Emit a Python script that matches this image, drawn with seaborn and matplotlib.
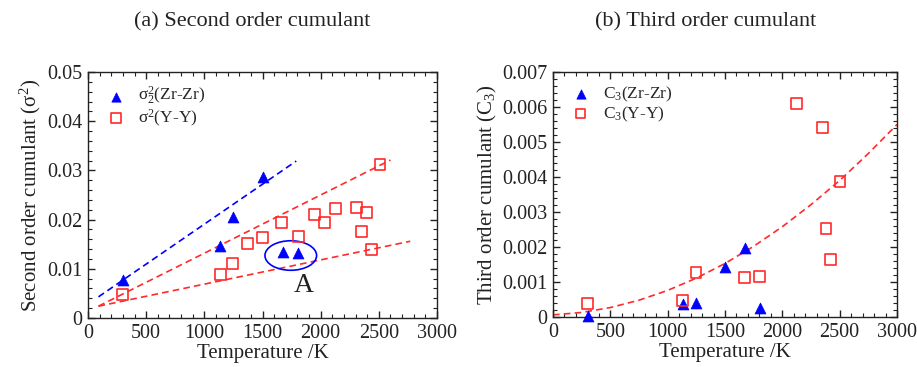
import numpy as np
import pandas as pd
import matplotlib
matplotlib.use("Agg")
import matplotlib.pyplot as plt
from matplotlib.patches import Ellipse
from matplotlib.ticker import MultipleLocator, FixedLocator, FixedFormatter
import seaborn as sns

# ---------------- data: panel (a) second order cumulant ----------------
zr2_T = [303, 1135, 1249, 1501, 1673, 1808]
zr2_val = [0.0077, 0.0146, 0.0206, 0.0287, 0.0135, 0.0133]
y2_T = [298, 1135, 1244, 1373, 1501, 1665, 1808, 1951, 2032, 2129, 2310, 2390, 2353, 2433, 2510]
y2_val = [0.0048, 0.0089, 0.0111, 0.0152, 0.0164, 0.0195, 0.0165, 0.0211, 0.0195, 0.0223,
          0.0224, 0.0214, 0.0176, 0.0140, 0.0312]
fit_zr2_T = [90, 1790]
fit_zr2_val = [0.0043, 0.0319]
fit_y2_hi_T = [90, 2600]
fit_y2_hi_val = [0.0024, 0.0321]
fit_y2_lo_T = [90, 2770]
fit_y2_lo_val = [0.0024, 0.0156]
ellipse_center = (1743, 0.0127)
ellipse_size = (444, 0.0060)
label_A_pos = (1851, 0.0067)

# ---------------- data: panel (b) third order cumulant ----------------
zr3_T = [302, 1131, 1247, 1503, 1672, 1805]
zr3_val = [0.00003, 0.00037, 0.00041, 0.00142, 0.00198, 0.00025]
y3_T = [302, 1131, 1247, 1669, 1799, 2125, 2352, 2503, 2381, 2424]
y3_val = [0.00039, 0.00047, 0.00127, 0.00113, 0.00115, 0.00611, 0.00541, 0.00387, 0.00253, 0.00165]
fit_y3_T = [0, 250, 500, 750, 1000, 1250, 1500, 1750, 2000, 2250, 2500, 2750, 3000]
fit_y3_val = [0.00006, 0.00013, 0.00027, 0.00048, 0.00076, 0.00111, 0.00153, 0.00202,
              0.00258, 0.00321, 0.00390, 0.00467, 0.00550]

# ---------------- ticks / text ----------------
x_ticks = [0, 500, 1000, 1500, 2000, 2500, 3000]
x_tick_labels = ["0", "500", "1000", "1500", "2000", "2500", "3000"]
ya_ticks = [0, 0.01, 0.02, 0.03, 0.04, 0.05]
ya_tick_labels = ["0", "0.01", "0.02", "0.03", "0.04", "0.05"]
yb_ticks = [0, 0.001, 0.002, 0.003, 0.004, 0.005, 0.006, 0.007]
yb_tick_labels = ["0", "0.001", "0.002", "0.003", "0.004", "0.005", "0.006", "0.007"]

BLUE = "#0000ff"
RED = "#ff2a2a"

sns.set_theme(style="ticks")
plt.rcParams["font.family"] = ["Liberation Serif", "DejaVu Serif"]
plt.rcParams["mathtext.fontset"] = "custom"
plt.rcParams["mathtext.rm"] = "Liberation Serif"
plt.rcParams["mathtext.it"] = "Liberation Serif:italic"
plt.rcParams["mathtext.default"] = "regular"

fig = plt.figure(figsize=(9.17, 3.67), dpi=100)
W, H = 917.0, 367.0
axA = fig.add_axes([88 / W, 1 - 318 / H, 349 / W, 246 / H])
axB = fig.add_axes([553 / W, 1 - 317 / H, 344 / W, 245 / H])


def style_axes(ax, yticks, ylabels, yminor):
    ax.set_xlim(0, 3000)
    ax.set_ylim(yticks[0], yticks[-1])
    ax.xaxis.set_major_locator(FixedLocator(x_ticks))
    ax.xaxis.set_major_formatter(FixedFormatter(x_tick_labels))
    ax.yaxis.set_major_locator(FixedLocator(yticks))
    ax.yaxis.set_major_formatter(FixedFormatter(ylabels))
    ax.xaxis.set_minor_locator(MultipleLocator(100))
    ax.yaxis.set_minor_locator(MultipleLocator(yminor))
    ax.tick_params(which="both", direction="in", top=True, right=True,
                   colors="#222222", labelcolor="#222222")
    ax.tick_params(which="major", length=5, width=1.0, labelsize=14.5)
    ax.tick_params(axis="x", which="major", pad=4)
    ax.tick_params(axis="y", which="major", pad=4)
    ax.tick_params(which="minor", length=2.8, width=0.8)
    for s in ax.spines.values():
        s.set_color("#222222")
        s.set_linewidth(1.0)
    ax.set_xlabel("Temperature /K", fontsize=15, color="#222222", labelpad=1)


dash = (4, 2.5)

# ---------------- panel (a) ----------------
sns.lineplot(x=fit_zr2_T, y=fit_zr2_val, ax=axA, color=BLUE, lw=1.2)
sns.lineplot(x=fit_y2_hi_T, y=fit_y2_hi_val, ax=axA, color=RED, lw=1.2)
sns.lineplot(x=fit_y2_lo_T, y=fit_y2_lo_val, ax=axA, color=RED, lw=1.2)
for ln in axA.get_lines():
    ln.set_dashes(dash)

sns.scatterplot(x=zr2_T, y=zr2_val, ax=axA, marker="^", s=62, color=BLUE,
                edgecolor=BLUE, linewidth=0.5, label=r"$\sigma_2^2$(Zr-Zr)", clip_on=False, zorder=5)
sns.scatterplot(x=y2_T, y=y2_val, ax=axA, marker="s", s=62, facecolors="none",
                edgecolor=RED, linewidth=1.2, label=r"$\sigma^2$(Y-Y)", zorder=5)
axA.add_patch(Ellipse(ellipse_center, ellipse_size[0], ellipse_size[1],
                      facecolor="none", edgecolor=BLUE, lw=1.2, zorder=4))
axA.text(label_A_pos[0], label_A_pos[1], "A", fontsize=20, ha="center", va="center", color="#222222")
style_axes(axA, ya_ticks, ya_tick_labels, 0.002)
axA.set_ylabel(r"Second order cumulant ($\sigma^2$)", fontsize=15, color="#222222", labelpad=3)

# ---------------- panel (b) ----------------
sns.lineplot(x=fit_y3_T, y=fit_y3_val, ax=axB, color=RED, lw=1.2)
for ln in axB.get_lines():
    ln.set_dashes(dash)
sns.scatterplot(x=zr3_T, y=zr3_val, ax=axB, marker="^", s=62, color=BLUE,
                edgecolor=BLUE, linewidth=0.5, label=r"C$_3$(Zr-Zr)", clip_on=False, zorder=5)
sns.scatterplot(x=y3_T, y=y3_val, ax=axB, marker="s", s=62, facecolors="none",
                edgecolor=RED, linewidth=1.2, label=r"C$_3$(Y-Y)", zorder=5)
style_axes(axB, yb_ticks, yb_tick_labels, 0.0002)
axB.set_ylabel(r"Third order cumulant (C$_3$)", fontsize=15, color="#222222", labelpad=2)

for ax in (axA, axB):
    ax.legend(loc="upper left", bbox_to_anchor=(0.045, 0.96), frameon=False,
              fontsize=12.5, handlelength=1.0, handletextpad=0.8, labelspacing=0.0,
              borderpad=0.2, borderaxespad=0.0, markerscale=0.85)

fig.text(252 / W, 1 - 22 / H, "(a) Second order cumulant", fontsize=16,
         ha="center", va="center", color="#222222")
fig.text(706 / W, 1 - 22 / H, "(b) Third order cumulant", fontsize=16,
         ha="center", va="center", color="#222222")

fig.savefig("out.png", dpi=100)
